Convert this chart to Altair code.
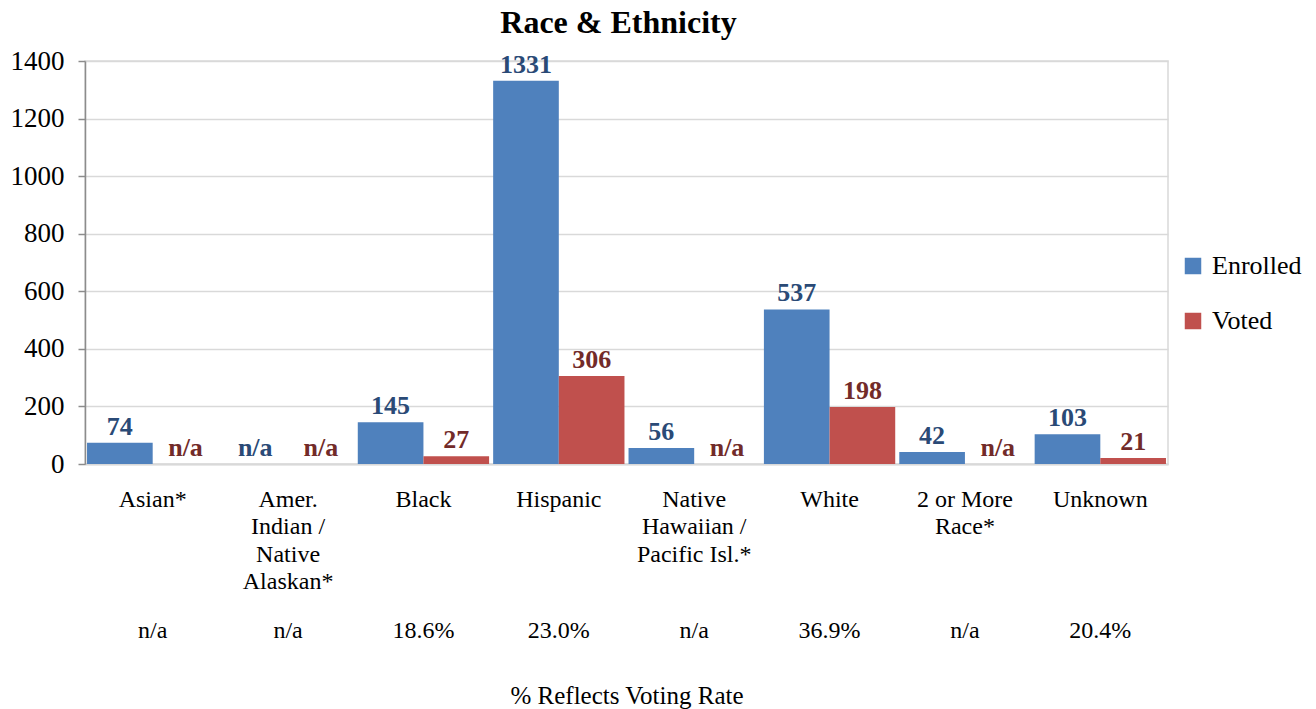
import altair as alt
import pandas as pd

categories = ["Asian*", "Amer.|Indian /|Native|Alaskan*", "Black", "Hispanic",
              "Native|Hawaiian /|Pacific Isl.*", "White", "2 or More|Race*", "Unknown"]
enrolled = [74, None, 145, 1331, 56, 537, 42, 103]
voted = [None, None, 27, 306, None, 198, None, 21]
rates = ["n/a", "n/a", "18.6%", "23.0%", "n/a", "36.9%", "n/a", "20.4%"]
series = ["Enrolled", "Voted"]

rows = []
for i, c in enumerate(categories):
    for s, vals in zip(series, [enrolled, voted]):
        v = vals[i]
        rows.append({"category": c, "series": s,
                     "value": 0 if v is None else v,
                     "label": "n/a" if v is None else str(v)})
df = pd.DataFrame(rows)

FONT = "Liberation Serif"
BLUE, RED = "#4F81BD", "#C0504D"
BLUE_LBL, RED_LBL = "#2A4A76", "#722B29"

cat_js = "[" + ",".join("'" + c + "'" for c in categories) + "]"
rate_js = "[" + ",".join("'" + r + "'" for r in rates) + "]"

xscale = alt.Scale(paddingInner=0.03, paddingOuter=0.015)

x_cat = alt.X("category:N", sort=categories, scale=xscale, title=None,
              axis=alt.Axis(orient="bottom", labelExpr="split(datum.value, '|')",
                            labelFont=FONT, labelFontSize=24, labelColor="black",
                            labelLineHeight=27.5, labelBaseline="top", labelPadding=23,
                            labelAngle=0, ticks=False, domainColor="#D9D9D9", domainWidth=2,
                            grid=False, labelLimit=300))
x_rate = alt.X("category:N", sort=categories, scale=xscale,
               title="% Reflects Voting Rate",
               axis=alt.Axis(orient="bottom",
                             labelExpr=rate_js + "[indexof(" + cat_js + ", datum.value)]",
                             labelFont=FONT, labelFontSize=24, labelColor="black",
                             labelBaseline="top", labelPadding=154, labelAngle=0,
                             ticks=False, domain=False, grid=False,
                             titleFont=FONT, titleFontSize=25, titleFontWeight="normal",
                             titleColor="black", titlePadding=41, titleBaseline="top"))

yenc = alt.Y("value:Q", scale=alt.Scale(domain=[0, 1400], nice=False), title=None,
             axis=alt.Axis(values=list(range(0, 1401, 200)), format="d",
                           labelFont=FONT, labelFontSize=27,
                           labelColor="black", tickColor="#8C8C8C", tickSize=7, tickWidth=1.5,
                           domainColor="#8C8C8C", domainWidth=1.5, labelPadding=14,
                           gridColor="#D9D9D9", gridWidth=1.5))

bars = alt.Chart(df).mark_bar().encode(
    x=x_cat,
    xOffset=alt.XOffset("series:N", sort=series, scale=alt.Scale(paddingInner=0, paddingOuter=0)),
    y=yenc,
    color=alt.Color("series:N", sort=series,
                    scale=alt.Scale(domain=series, range=[BLUE, RED]),
                    legend=alt.Legend(title=None, orient="none", legendX=1095, legendY=192,
                                      symbolType="square", symbolSize=272, symbolStrokeWidth=0,
                                      labelFont=FONT, labelFontSize=26, labelColor="black",
                                      labelOffset=6, rowPadding=29, padding=0)),
)

labels = alt.Chart(df).mark_text(font=FONT, fontSize=26, fontWeight="bold",
                                 baseline="alphabetic", dy=-8).encode(
    x=x_rate,
    xOffset=alt.XOffset("series:N", sort=series),
    y=alt.Y("value:Q"),
    text="label:N",
    color=alt.condition("datum.series == 'Enrolled'", alt.value(BLUE_LBL), alt.value(RED_LBL)),
)

chart = alt.layer(bars, labels).resolve_axis(x="independent").properties(
    width=1083, height=403,
    autosize=alt.AutoSizeParams(type="none"),
    padding={"left": 77, "top": 53, "right": 140, "bottom": 245},
    title=alt.TitleParams("Race & Ethnicity", font=FONT, fontSize=32, fontWeight="bold",
                          color="black", anchor="middle", frame="group", dx=-8,
                          baseline="alphabetic", offset=-18),
).configure(background="white", font=FONT).configure_view(
    stroke="#D9D9D9", strokeWidth=1.5
).configure_axis(labelFont=FONT, titleFont=FONT).configure_legend(labelFont=FONT)

chart.save("out.html", embed_options={"renderer": "svg", "actions": False})
